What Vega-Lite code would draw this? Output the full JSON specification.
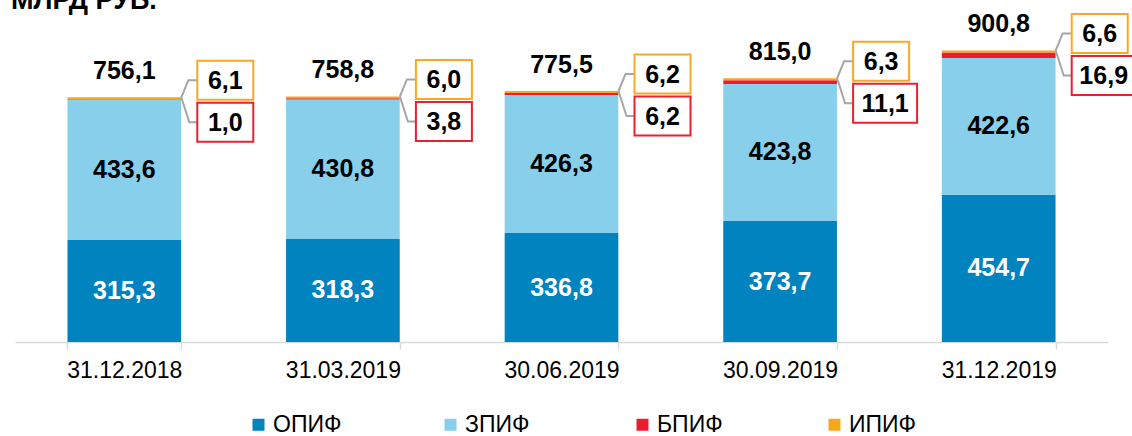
{
  "$schema": "https://vega.github.io/schema/vega-lite/v6.json",
  "autosize": {"type": "none"},
  "padding": {"left": 15, "top": 20, "right": 24, "bottom": 94},
  "width": 1093,
  "height": 322,
  "background": "white",
  "title": {"text": "МЛРД РУБ.", "anchor": "start", "frame": "group", "font": "Liberation Sans", "fontSize": 27, "fontWeight": "bold", "color": "black", "offset": 8, "dx": -4, "dy": 34, "baseline": "alphabetic"},
  "config": {
    "view": {"stroke": null},
    "locale": {"number": {"decimal": ",", "thousands": " ", "grouping": [3], "currency": ["", ""]}}
  },
  "datasets": {
    "seg": [
      {"d": "31.12.2018", "s": "ОПИФ", "v": 315.3},
      {"d": "31.12.2018", "s": "ЗПИФ", "v": 433.6},
      {"d": "31.12.2018", "s": "БПИФ", "v": 1.0},
      {"d": "31.12.2018", "s": "ИПИФ", "v": 6.1},
      {"d": "31.03.2019", "s": "ОПИФ", "v": 318.3},
      {"d": "31.03.2019", "s": "ЗПИФ", "v": 430.8},
      {"d": "31.03.2019", "s": "БПИФ", "v": 3.8},
      {"d": "31.03.2019", "s": "ИПИФ", "v": 6.0},
      {"d": "30.06.2019", "s": "ОПИФ", "v": 336.8},
      {"d": "30.06.2019", "s": "ЗПИФ", "v": 426.3},
      {"d": "30.06.2019", "s": "БПИФ", "v": 6.2},
      {"d": "30.06.2019", "s": "ИПИФ", "v": 6.2},
      {"d": "30.09.2019", "s": "ОПИФ", "v": 373.7},
      {"d": "30.09.2019", "s": "ЗПИФ", "v": 423.8},
      {"d": "30.09.2019", "s": "БПИФ", "v": 11.1},
      {"d": "30.09.2019", "s": "ИПИФ", "v": 6.3},
      {"d": "31.12.2019", "s": "ОПИФ", "v": 454.7},
      {"d": "31.12.2019", "s": "ЗПИФ", "v": 422.6},
      {"d": "31.12.2019", "s": "БПИФ", "v": 16.9},
      {"d": "31.12.2019", "s": "ИПИФ", "v": 6.6}
    ],
    "tot": [
      {"d": "31.12.2018", "total": 756.1, "ipif": 6.1, "bpif": 1.0},
      {"d": "31.03.2019", "total": 758.8, "ipif": 6.0, "bpif": 3.8},
      {"d": "30.06.2019", "total": 775.5, "ipif": 6.2, "bpif": 6.2},
      {"d": "30.09.2019", "total": 815.0, "ipif": 6.3, "bpif": 11.1},
      {"d": "31.12.2019", "total": 900.8, "ipif": 6.6, "bpif": 16.9}
    ]
  },
  "layer": [
    {
      "data": {"name": "seg"},
      "transform": [{"calculate": "indexof(['ОПИФ','ЗПИФ','БПИФ','ИПИФ'], datum.s)", "as": "o"}],
      "mark": {"type": "bar"},
      "encoding": {
        "x": {"field": "d", "type": "nominal", "sort": null,
          "scale": {"paddingInner": 0.48, "paddingOuter": 0.24},
          "axis": {"title": null, "labelAngle": 0, "labelFont": "Liberation Sans", "labelFontSize": 23, "labelColor": "black", "domainColor": "#D9D9D9", "domainWidth": 1.5, "tickColor": "#D9D9D9", "tickWidth": 1.5, "tickSize": 7, "tickBand": "extent", "labelPadding": 10}},
        "y": {"field": "v", "type": "quantitative", "stack": "zero", "scale": {"domain": [0, 995], "nice": false}, "axis": null},
        "color": {"field": "s", "type": "nominal",
          "scale": {"domain": ["ОПИФ", "ЗПИФ", "БПИФ", "ИПИФ"], "range": ["#0083BE", "#87CFEB", "#EC1C30", "#F9A61B"]},
          "legend": {"title": null, "orient": "none", "legendX": 232, "legendY": 393, "direction": "horizontal", "columns": 4, "gridAlign": "all", "columnPadding": 97, "symbolType": "square", "symbolSize": 144, "symbolStrokeWidth": 0, "labelFont": "Liberation Sans", "labelFontSize": 23, "labelColor": "black", "labelOffset": 3}},
        "order": {"field": "o", "type": "quantitative"}
      }
    },
    {
      "data": {"name": "seg"},
      "transform": [
        {"calculate": "indexof(['ОПИФ','ЗПИФ','БПИФ','ИПИФ'], datum.s)", "as": "o"},
        {"filter": "datum.o < 2"},
        {"stack": "v", "groupby": ["d"], "sort": [{"field": "o", "order": "ascending"}], "as": ["v0", "v1"]},
        {"calculate": "(datum.v0 + datum.v1) / 2", "as": "mid"}
      ],
      "mark": {"type": "text", "font": "Liberation Sans", "fontWeight": "bold", "fontSize": 25, "baseline": "middle"},
      "encoding": {
        "x": {"field": "d", "type": "nominal", "sort": null},
        "y": {"field": "mid", "type": "quantitative"},
        "text": {"field": "v", "type": "quantitative", "format": ".1f"},
        "color": {"condition": {"test": "datum.o === 0", "value": "white"}, "value": "black"}
      }
    },
    {
      "data": {"name": "tot"},
      "mark": {"type": "text", "font": "Liberation Sans", "fontWeight": "bold", "fontSize": 25, "baseline": "alphabetic", "dy": -18, "color": "black"},
      "encoding": {
        "x": {"field": "d", "type": "nominal", "sort": null},
        "y": {"field": "total", "type": "quantitative"},
        "text": {"field": "total", "type": "quantitative", "format": ".1f"}
      }
    },
    {
      "data": {"name": "tot"},
      "mark": {"type": "point", "shape": "M0,0L7,-17L16,-17M0,0L8,25L16,25", "size": 4, "filled": false, "stroke": "#A6A6A6", "strokeWidth": 2, "opacity": 1, "xOffset": 57},
      "encoding": {
        "x": {"field": "d", "type": "nominal", "sort": null},
        "y": {"field": "total", "type": "quantitative"}
      }
    },
    {
      "data": {"name": "tot"},
      "mark": {"type": "point", "shape": "M0,-19.5L56,-19.5L56,19.5L0,19.5Z", "size": 4, "filled": true, "fill": "white", "stroke": "#F9A825", "strokeWidth": 2, "opacity": 1, "xOffset": 73, "yOffset": -17},
      "encoding": {
        "x": {"field": "d", "type": "nominal", "sort": null},
        "y": {"field": "total", "type": "quantitative"}
      }
    },
    {
      "data": {"name": "tot"},
      "mark": {"type": "text", "font": "Liberation Sans", "fontWeight": "bold", "fontSize": 25, "baseline": "middle", "color": "black", "xOffset": 101, "yOffset": -16},
      "encoding": {
        "x": {"field": "d", "type": "nominal", "sort": null},
        "y": {"field": "total", "type": "quantitative"},
        "text": {"field": "ipif", "type": "quantitative", "format": ".1f"}
      }
    },
    {
      "data": {"name": "tot"},
      "transform": [{"filter": "datum.bpif < 10"}],
      "mark": {"type": "point", "shape": "M0,-19.5L56,-19.5L56,19.5L0,19.5Z", "size": 4, "filled": true, "fill": "white", "stroke": "#E8202F", "strokeWidth": 2, "opacity": 1, "xOffset": 73, "yOffset": 25},
      "encoding": {
        "x": {"field": "d", "type": "nominal", "sort": null},
        "y": {"field": "total", "type": "quantitative"}
      }
    },
    {
      "data": {"name": "tot"},
      "transform": [{"filter": "datum.bpif >= 10"}],
      "mark": {"type": "point", "shape": "M0,-19.5L64,-19.5L64,19.5L0,19.5Z", "size": 4, "filled": true, "fill": "white", "stroke": "#E8202F", "strokeWidth": 2, "opacity": 1, "xOffset": 73, "yOffset": 25},
      "encoding": {
        "x": {"field": "d", "type": "nominal", "sort": null},
        "y": {"field": "total", "type": "quantitative"}
      }
    },
    {
      "data": {"name": "tot"},
      "transform": [{"filter": "datum.bpif < 10"}],
      "mark": {"type": "text", "font": "Liberation Sans", "fontWeight": "bold", "fontSize": 25, "baseline": "middle", "color": "black", "xOffset": 101, "yOffset": 26},
      "encoding": {
        "x": {"field": "d", "type": "nominal", "sort": null},
        "y": {"field": "total", "type": "quantitative"},
        "text": {"field": "bpif", "type": "quantitative", "format": ".1f"}
      }
    },
    {
      "data": {"name": "tot"},
      "transform": [{"filter": "datum.bpif >= 10"}],
      "mark": {"type": "text", "font": "Liberation Sans", "fontWeight": "bold", "fontSize": 25, "baseline": "middle", "color": "black", "xOffset": 105, "yOffset": 26},
      "encoding": {
        "x": {"field": "d", "type": "nominal", "sort": null},
        "y": {"field": "total", "type": "quantitative"},
        "text": {"field": "bpif", "type": "quantitative", "format": ".1f"}
      }
    }
  ]
}
